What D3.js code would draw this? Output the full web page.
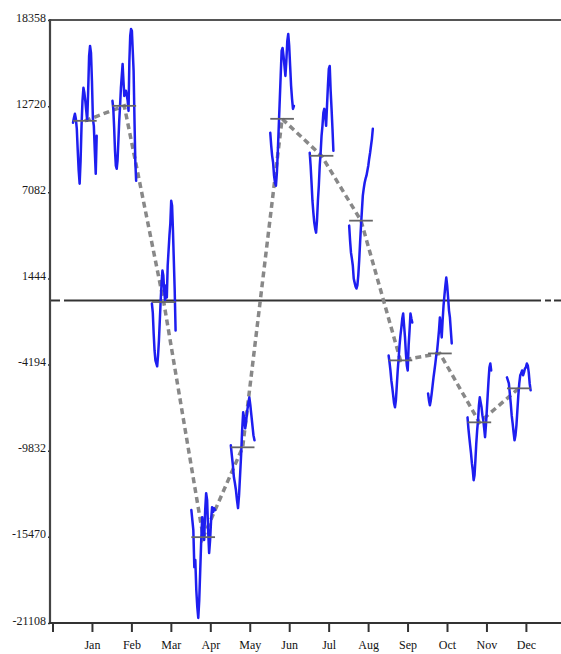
<!DOCTYPE html>
<html>
<head>
<meta charset="utf-8">
<script src="https://cdn.jsdelivr.net/npm/d3@7"></script>
<style>
  html, body { margin: 0; padding: 0; background: #fff; }
  svg { display: block; }
</style>
</head>
<body>
<svg id="chart" width="561" height="654"></svg>
<script>
// Month labels for the seasonal subseries
const months = ["Jan", "Feb", "Mar", "Apr", "May", "Jun", "Jul", "Aug", "Sep", "Oct", "Nov", "Dec"];

// Y tick values
const yTicks = [-21108, -15470, -9832, -4194, 1444, 7082, 12720, 18358];

// Monthly subseries (each drawn across its own month slot)
const janValues = [11630, 11960, 12220, 11890, 11240, 9800, 8490, 7640, 9150, 11430, 13070, 13920, 13590, 13070, 12410, 11760, 13720, 16010, 16660, 16200, 14370, 11890, 11430, 9800, 8300, 10780];
const febValues = [13070, 12540, 11300, 9800, 8820, 8620, 9150, 10450, 11760, 12740, 13920, 14700, 15480, 14370, 13390, 13720, 13720, 13390, 13070, 12410, 15680, 17310, 17770, 17640, 16330, 15030, 11960, 9150, 7840];
const marValues = [-200, -790, -2160, -3270, -3920, -4120, -4310, -3600, -2620, -1310, 0, 1110, 1960, 1630, 650, 0, 980, 190, 2290, 3270, 4250, 5030, 6530, 6210, 4570, 2610, 650, -1960];
const aprValues = [-13720, -14380, -15030, -17450, -16990, -18950, -20060, -20780, -19600, -17640, -15680, -14180, -15030, -15680, -13720, -12610, -13070, -15030, -16530, -15680, -14380, -13530, -13850, -13590, -13720];
const mayValues = [-9480, -10130, -10780, -11570, -11960, -12420, -13070, -13590, -12740, -11440, -10130, -8500, -7320, -7710, -8370, -7840, -7190, -6730, -6340, -6860, -7520, -8170, -8820, -9150];
const junValues = [10980, 10130, 9470, 9020, 8170, 7710, 7510, 8360, 9800, 11430, 13070, 14700, 16330, 16530, 16010, 15350, 14700, 15680, 16990, 17440, 16660, 15350, 14050, 13200, 12540, 12740];
const julValues = [9670, 8820, 7710, 6530, 5750, 5100, 4700, 4440, 5230, 6530, 7510, 8820, 9670, 10780, 11430, 12280, 12540, 12090, 11430, 12740, 14050, 15160, 15350, 13720, 12540, 11240, 9800];
const augValues = [4900, 3920, 3130, 2740, 2290, 1440, 1170, 910, 780, 980, 1630, 2610, 3790, 4900, 5880, 6860, 7320, 7710, 7970, 8170, 8490, 8820, 9280, 9670, 10130, 10580, 11240];
const sepValues = [-3600, -4050, -4580, -5230, -5690, -6210, -6730, -6990, -6540, -5560, -4580, -3790, -2940, -2290, -1770, -1180, -850, -1640, -2420, -3470, -4250, -4580, -2940, -1960, -850, -1180, -1440];
const octValues = [-6080, -6540, -6860, -6540, -6080, -5560, -5030, -4580, -4120, -3600, -3270, -2620, -1960, -1110, -1640, -2420, -1310, -330, 330, 980, 1500, 980, 190, -660, -1110, -1960, -2810];
const novValues = [-7650, -8370, -8950, -9480, -10000, -10650, -11110, -11760, -11440, -10460, -9350, -8500, -7840, -6860, -6340, -6670, -6990, -7520, -7840, -8370, -8950, -8170, -7190, -6210, -5230, -4380, -4120, -4580];
const decValues = [-5030, -5230, -5430, -6080, -6730, -7520, -8040, -8630, -9150, -8820, -8170, -7190, -6210, -5430, -4900, -4770, -4580, -4900, -4710, -4450, -4380, -4120, -4250, -4710, -5430, -5880];

// Monthly means (horizontal reference lines)
const monthMeans = [11760, 12740, -100, -15490, -9610, 11890, 9470, 5225, -3920, -3465, -7975, -5750];

const subseries = [janValues, febValues, marValues, aprValues, mayValues, junValues,
                   julValues, augValues, sepValues, octValues, novValues, decValues];

const W = 561, H = 654;
const axisX = 50, topY = 20, bottomY = 623;

const svg = d3.select("#chart");

// Month slot scale: month m (1..12) has its tick at m
const x = d3.scaleLinear().domain([0, 13]).range([52.5, 52.5 + 39.45 * 13]);
const y = d3.scaleLinear().domain([-21108, 18358]).range([bottomY, topY]);

// Each month's subseries spreads from m-0.48 to m+0.12
const slotStart = -0.48, slotEnd = 0.12;

// Frame: top border and zero line
svg.append("line")
  .attr("x1", axisX).attr("x2", W)
  .attr("y1", y(18358)).attr("y2", y(18358))
  .attr("stroke", "#555").attr("stroke-width", 2.2);

const zeroG = svg.append("g").attr("stroke", "#333").attr("stroke-width", 2);
zeroG.append("line").attr("x1", axisX).attr("x2", 60).attr("y1", y(0)).attr("y2", y(0));
zeroG.append("line").attr("x1", 64).attr("x2", 541).attr("y1", y(0)).attr("y2", y(0));
zeroG.append("line").attr("x1", 545).attr("x2", 551).attr("y1", y(0)).attr("y2", y(0));
zeroG.append("line").attr("x1", 554).attr("x2", W).attr("y1", y(0)).attr("y2", y(0));

// Dashed line joining the monthly means
const meanPts = monthMeans.map((v, i) => [x(i + 1 + (slotStart + slotEnd) / 2), y(v)]);
svg.append("path")
  .attr("d", d3.line()(meanPts))
  .attr("fill", "none")
  .attr("stroke", "#888")
  .attr("stroke-width", 3.5)
  .attr("stroke-dasharray", "6,4");

// Subseries lines
const line = d3.line().x(d => d[0]).y(d => d[1]);
subseries.forEach((vals, i) => {
  const m = i + 1;
  const xs = d3.scaleLinear().domain([0, vals.length - 1]).range([x(m + slotStart), x(m + slotEnd)]);
  const pts = vals.map((v, k) => [xs(k), y(v)]);
  svg.append("path")
    .attr("d", line(pts))
    .attr("fill", "none")
    .attr("stroke", "#1e1ef0")
    .attr("stroke-width", 2.5)
    .attr("stroke-linejoin", "round")
    .attr("stroke-linecap", "round");
});

// Mean markers
svg.append("g").selectAll("line")
  .data(monthMeans)
  .join("line")
  .attr("x1", (d, i) => x(i + 1 + slotStart))
  .attr("x2", (d, i) => x(i + 1 + slotEnd))
  .attr("y1", d => y(d)).attr("y2", d => y(d))
  .attr("stroke", "#666")
  .attr("stroke-width", 1.8);

// Y axis
const yAxis = d3.axisLeft(y)
  .tickValues(yTicks)
  .tickSize(2)
  .tickPadding(2)
  .tickFormat(d => String(d));
const yg = svg.append("g").attr("transform", `translate(${axisX},0)`).call(yAxis);
yg.select(".domain").remove();
yg.selectAll(".tick line").attr("stroke", "#333").attr("stroke-width", 1.5);
yg.selectAll(".tick text")
  .attr("dy", 1)
  .attr("fill", "#1a1a1a")
  .style("font-family", "'Liberation Serif', 'DejaVu Serif', serif")
  .style("font-size", "12px");
svg.append("line")
  .attr("x1", axisX).attr("x2", axisX)
  .attr("y1", topY - 1).attr("y2", bottomY + 1)
  .attr("stroke", "#444").attr("stroke-width", 2.2);

// X axis
const xAxis = d3.axisBottom(x)
  .tickValues(d3.range(0, 13))
  .tickSize(9)
  .tickPadding(8)
  .tickFormat(i => i === 0 ? "" : months[i - 1]);
const xg = svg.append("g").attr("transform", `translate(0,${bottomY})`).call(xAxis);
xg.select(".domain").remove();
xg.selectAll(".tick line").attr("stroke", "#333").attr("stroke-width", 2);
xg.selectAll(".tick text")
  .attr("fill", "#111")
  .style("font-family", "'Liberation Serif', 'DejaVu Serif', serif")
  .style("font-size", "12px");
svg.append("line")
  .attr("x1", axisX - 1).attr("x2", W)
  .attr("y1", bottomY).attr("y2", bottomY)
  .attr("stroke", "#333").attr("stroke-width", 2);
</script>
</body>
</html>
